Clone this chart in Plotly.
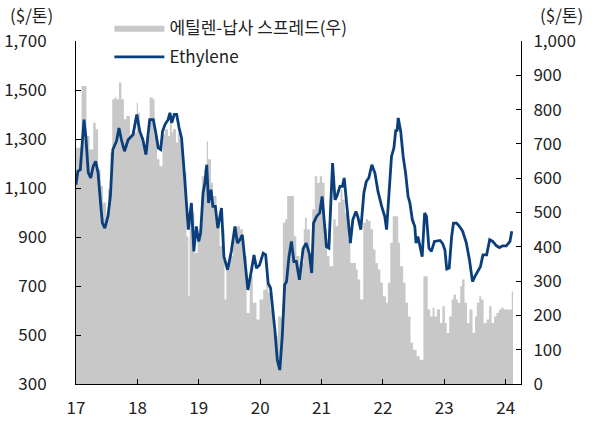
import plotly.graph_objects as go

# Ethylene price ($/ton, left axis) - time in decimal years (17 = 2017)
eth_t = [17.00, 17.03, 17.07, 17.13, 17.16, 17.20, 17.24, 17.28, 17.32, 17.36, 17.40, 17.43, 17.47,
         17.52, 17.56, 17.60, 17.66, 17.70, 17.74, 17.79, 17.85, 17.93, 17.99, 18.04, 18.09, 18.14,
         18.20, 18.26, 18.30, 18.34, 18.38, 18.41, 18.45, 18.50, 18.53, 18.56, 18.60, 18.64, 18.68,
         18.72, 18.77, 18.83, 18.88, 18.92, 18.96, 19.00, 19.03, 19.07, 19.10, 19.13, 19.16, 19.20,
         19.23, 19.27, 19.31, 19.37, 19.41, 19.47, 19.53, 19.59, 19.63, 19.67, 19.71, 19.74, 19.80,
         19.86, 19.90, 19.94, 19.99, 20.05, 20.09, 20.13, 20.17, 20.24, 20.28, 20.32, 20.36, 20.40,
         20.43, 20.47, 20.51, 20.55, 20.59, 20.64, 20.70, 20.75, 20.80, 20.84, 20.87, 20.92, 20.97,
         21.01, 21.05, 21.08, 21.12, 21.18, 21.22, 21.25, 21.30, 21.34, 21.37, 21.41, 21.43, 21.47,
         21.51, 21.56, 21.59, 21.64, 21.69, 21.73, 21.77, 21.82, 21.87, 21.92, 21.98, 22.03, 22.06,
         22.10, 22.14, 22.18, 22.21, 22.23, 22.25, 22.29, 22.33, 22.37, 22.41, 22.44, 22.46, 22.48,
         22.52, 22.54, 22.57, 22.60, 22.64, 22.68, 22.71, 22.75, 22.79, 22.84, 22.93, 22.97, 23.01,
         23.04, 23.08, 23.12, 23.15, 23.20, 23.25, 23.30, 23.36, 23.41, 23.46, 23.50, 23.55, 23.59,
         23.63, 23.69, 23.74, 23.79, 23.85, 23.90, 23.95, 24.01, 24.07, 24.10]
eth_v = [1113, 1168, 1175, 1379, 1311, 1163, 1141, 1188, 1209, 1161, 1039, 957, 936,
         984, 1066, 1257, 1291, 1345, 1297, 1250, 1297, 1318, 1400, 1331, 1297, 1236,
         1379, 1379, 1325, 1264, 1257, 1331, 1359, 1379, 1407, 1366, 1400, 1400, 1345,
         1304, 1140, 930, 1039, 841, 943, 882, 916, 1080, 1120, 1195, 1039, 1093,
         1025, 1025, 936, 1018, 820, 766, 841, 943, 875, 889, 909, 834, 684,
         766, 827, 773, 786, 834, 827, 712, 691, 521, 398, 357, 493, 705,
         718, 820, 882, 800, 800, 725, 852, 875, 834, 753, 957, 984, 998,
         1066, 930, 861, 855, 1202, 1052, 1066, 1107, 1107, 1141, 1025, 984, 875,
         970, 1004, 984, 930, 1080, 1127, 1141, 1195, 1161, 1086, 1025, 984, 930,
         1093, 1229, 1264, 1338, 1331, 1386, 1331, 1229, 1161, 1066, 1039, 1011, 970,
         943, 875, 902, 868, 820, 998, 984, 855, 841, 882, 886, 875, 848,
         769, 773, 902, 957, 957, 943, 923, 875, 807, 718, 739, 759, 780,
         827, 827, 889, 882, 864, 857, 864, 864, 882, 923]

# Ethylene-naphtha spread ($/ton, right axis)
spr_t = [17.00, 17.03, 17.09, 17.14, 17.17, 17.22, 17.28, 17.32, 17.36, 17.40, 17.44, 17.49, 17.52,
         17.56, 17.59, 17.63, 17.66, 17.70, 17.74, 17.78, 17.82, 17.88, 17.93, 17.99, 18.01, 18.04,
         18.09, 18.15, 18.20, 18.25, 18.28, 18.32, 18.36, 18.41, 18.45, 18.50, 18.53, 18.56, 18.58,
         18.63, 18.66, 18.69, 18.74, 18.77, 18.80, 18.83, 18.85, 18.89, 18.93, 18.98, 19.02, 19.05,
         19.09, 19.13, 19.15, 19.20, 19.23, 19.29, 19.34, 19.38, 19.42, 19.45, 19.50, 19.56, 19.61,
         19.67, 19.72, 19.78, 19.83, 19.88, 19.94, 19.99, 20.05, 20.10, 20.13, 20.17, 20.21, 20.25,
         20.29, 20.34, 20.37, 20.41, 20.44, 20.48, 20.52, 20.55, 20.59, 20.64, 20.68, 20.71, 20.73,
         20.76, 20.81, 20.85, 20.89, 20.93, 20.97, 21.01, 21.05, 21.09, 21.13, 21.19, 21.23, 21.27,
         21.31, 21.34, 21.38, 21.43, 21.47, 21.51, 21.56, 21.59, 21.63, 21.68, 21.72, 21.76, 21.80,
         21.84, 21.88, 21.92, 21.96, 22.00, 22.05, 22.08, 22.12, 22.16, 22.21, 22.25, 22.28, 22.33,
         22.37, 22.41, 22.45, 22.49, 22.55, 22.60, 22.64, 22.66, 22.70, 22.73, 22.77, 22.81, 22.84,
         22.88, 22.93, 22.97, 23.01, 23.04, 23.08, 23.12, 23.15, 23.19, 23.22, 23.26, 23.29, 23.33,
         23.37, 23.41, 23.46, 23.50, 23.53, 23.57, 23.60, 23.64, 23.69, 23.73, 23.77, 23.81, 23.85,
         23.89, 23.93, 23.97, 24.01, 24.06, 24.10, 24.12]
spr_v = [689, 689, 869, 869, 723, 684, 762, 743, 626, 577, 529, 489, 567,
         674, 830, 835, 830, 879, 830, 772, 781, 723, 733, 820, 791, 723,
         694, 723, 835, 830, 723, 655, 635, 728, 743, 723, 772, 733, 743,
         704, 733, 713, 626, 617, 430, 256, 480, 500, 383, 431, 471, 606,
         626, 708, 655, 587, 548, 480, 402, 451, 246, 334, 373, 431, 460,
         451, 373, 207, 314, 237, 188, 246, 275, 295, 266, 217, 159, 139,
         197, 193, 470, 480, 548, 548, 548, 431, 373, 334, 353, 451, 485,
         451, 363, 509, 606, 587, 606, 587, 451, 373, 343, 480, 460, 529,
         567, 538, 499, 421, 353, 353, 334, 305, 246, 470, 480, 475, 451,
         392, 353, 334, 295, 256, 237, 295, 412, 489, 489, 412, 343, 295,
         237, 197, 120, 100, 81, 71, 71, 314, 314, 217, 197, 222, 197,
         217, 178, 227, 178, 149, 197, 246, 261, 246, 237, 285, 305, 237,
         178, 217, 149, 197, 237, 256, 246, 178, 188, 227, 178, 197, 207,
         217, 222, 217, 217, 217, 270, 270]

x_ticks = [17, 18, 19, 20, 21, 22, 23, 24]
x_labels = ["17", "18", "19", "20", "21", "22", "23", "24"]
left_ticks = [300, 500, 700, 900, 1100, 1300, 1500, 1700]
right_ticks = [0, 100, 200, 300, 400, 500, 600, 700, 800, 900, 1000]

FONT = "Noto Sans CJK KR"
FS = 17
fig = go.Figure()

fig.add_trace(go.Scatter(
    x=spr_t, y=spr_v, name="에틸렌-납사 스프레드(우)", mode="lines",
    line=dict(width=0, color="#C8C8C8", shape="hv"),
    fill="tozeroy", fillcolor="#C8C8C8", yaxis="y", legendgroup="a"))

fig.add_trace(go.Scatter(
    x=eth_t, y=eth_v, name="Ethylene", mode="lines",
    line=dict(width=2.8, color="#0B3F7C"), yaxis="y2", legendgroup="b"))

def axis_common():
    return dict(showgrid=False, zeroline=False, showline=True, linecolor="black",
                linewidth=1, ticks="inside", ticklen=5, tickcolor="black",
                automargin=False,
                tickfont=dict(size=FS, color="#222", family=FONT))

fig.update_layout(
    width=597, height=428,
    margin=dict(l=76, r=76, t=41, b=44, autoexpand=False),
    paper_bgcolor="white", plot_bgcolor="white",
    font=dict(family=FONT, size=FS, color="#222"),
    showlegend=True,
    legend=dict(x=0.075, y=1.09, xanchor="left", yanchor="top",
                bgcolor="rgba(0,0,0,0)", font=dict(size=FS, family=FONT),
                itemwidth=50, traceorder="grouped", tracegroupgap=4),
    xaxis=dict(range=[17, 24.25], tickvals=x_ticks, ticktext=x_labels,
               ticklabelstandoff=9, **axis_common()),
    yaxis=dict(range=[0, 1000], tickvals=right_ticks, tickformat=",", side="right",
               ticklabelstandoff=8, **axis_common()),
    yaxis2=dict(range=[300, 1700], tickvals=left_ticks, tickformat=",", side="left",
                overlaying="y", ticklabelstandoff=25, **axis_common()),
)

fig.add_annotation(text="($/톤)", xref="paper", yref="paper", x=-0.099, y=1.076,
                   xanchor="center", yanchor="middle", showarrow=False,
                   font=dict(size=FS, family=FONT, color="#222"))
fig.add_annotation(text="($/톤)", xref="paper", yref="paper", x=1.092, y=1.076,
                   xanchor="center", yanchor="middle", showarrow=False,
                   font=dict(size=FS, family=FONT, color="#222"))

fig.write_html("out.html")
